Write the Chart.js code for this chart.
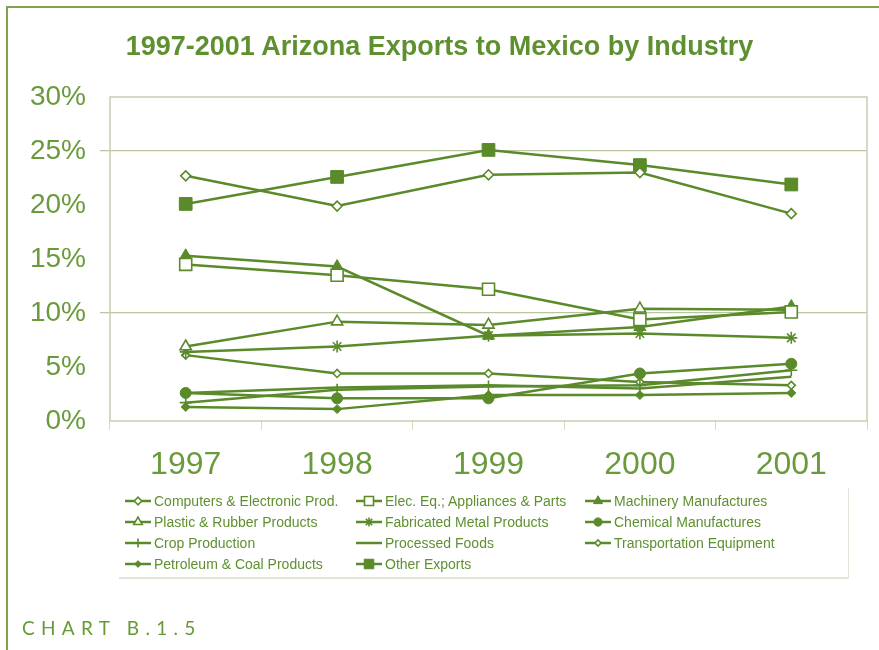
<!DOCTYPE html>
<html>
<head>
<meta charset="utf-8">
<script src="https://cdn.jsdelivr.net/npm/chart.js@4/dist/chart.umd.min.js"></script>
<style>
  html, body { margin: 0; padding: 0; background: #fff; }
  #page { position: relative; width: 879px; height: 650px; overflow: hidden; }
  #frame { position: absolute; left: 6px; top: 6px; right: -10px; bottom: -10px;
           border-left: 2px solid #7ca54c; border-top: 2px solid #7ca54c; }
  #chart { position: absolute; left: 0; top: 0; }
  #title { position: absolute; left: 0; width: 879px; top: 31px; text-align: center;
           font: bold 27px "Liberation Sans", Arial, sans-serif; color: #5e9030; }
  #legend { position: absolute; left: 119px; top: 488px; width: 729px; height: 89px;
            border-right: 1px solid #e2e4da; border-bottom: 2px solid #e2e4da; }
  .item { position: absolute; height: 18px; display: flex; align-items: center;
          font: 14px "Liberation Sans", Arial, sans-serif; color: #5e9030; white-space: nowrap; }
  .item canvas { margin-right: 2px; }
  #caption { position: absolute; left: 22px; top: 616px; letter-spacing: 6.3px;
             font: 19px Lato, "Open Sans", sans-serif; color: #679a36; }
</style>
</head>
<body>
<div id="page">
  <div id="frame"></div>
  <canvas id="chart" width="879" height="650"></canvas>
  <div id="title">1997-2001 Arizona Exports to Mexico by Industry</div>
  <div id="legend"></div>
  <div id="caption">CHART B.1.5</div>
</div>
<script>
// Share of Arizona exports to Mexico, percent
const years = ['1997', '1998', '1999', '2000', '2001'];

const computers      = [22.7, 19.9, 22.8, 23.0, 19.2];
const elecEquipment  = [14.5, 13.5, 12.2,  9.4, 10.1];
const machinery      = [15.3, 14.3,  7.9,  8.7, 10.6];
const plastics       = [ 6.9,  9.2,  8.9, 10.4, 10.3];
const fabricated     = [ 6.4,  6.9,  7.9,  8.1,  7.7];
const chemicals      = [ 2.6,  2.1,  2.1,  4.4,  5.3];
const crops          = [ 1.7,  2.9,  3.2,  3.3,  4.7];
const processedFoods = [ 2.6,  3.1,  3.3,  3.0,  4.1];
const transportation = [ 6.1,  4.4,  4.4,  3.6,  3.3];
const petroleum      = [ 1.3,  1.1,  2.4,  2.4,  2.6];
const otherExports   = [20.1, 22.6, 25.1, 23.7, 21.9];

const yTicks = [0, 5, 10, 15, 20, 25, 30];
const gridValues = [10, 25];

const GREEN = '#5a8a2a';
const TEXT = '#6a9a3c';

function series(label, data, pointStyle, radius, filled) {
    return {
        label: label,
        data: data,
        borderColor: GREEN,
        borderWidth: 2.5,
        pointStyle: pointStyle,
        pointRadius: radius,
        pointHoverRadius: radius,
        pointBorderWidth: filled ? 1 : 1.6,
        pointBorderColor: GREEN,
        pointBackgroundColor: filled ? GREEN : '#fff',
        tension: 0
    };
}

const datasets = [
    series('Computers & Electronic Prod.', computers, 'rectRot', 5, false),
    series('Elec. Eq.; Appliances & Parts', elecEquipment, 'rect', 8.5, false),
    series('Machinery Manufactures', machinery, 'triangle', 7, true),
    series('Plastic & Rubber Products', plastics, 'triangle', 6.5, false),
    series('Fabricated Metal Products', fabricated, 'star', 6, false),
    series('Chemical Manufactures', chemicals, 'circle', 5.5, true),
    series('Crop Production', crops, 'cross', 6, false),
    series('Processed Foods', processedFoods, false, 0, false),
    series('Transportation Equipment', transportation, 'rectRot', 4, false),
    series('Petroleum & Coal Products', petroleum, 'rectRot', 4.5, true),
    series('Other Exports', otherExports, 'rect', 9, true)
];

// light box around the plotting area
const plotBox = {
    id: 'plotBox',
    beforeDatasetsDraw(chart) {
        const a = chart.chartArea;
        const ctx = chart.ctx;
        ctx.save();
        ctx.strokeStyle = '#c6cfb0';
        ctx.lineWidth = 1.5;
        ctx.strokeRect(a.left, a.top, a.right - a.left, a.bottom - a.top);
        ctx.restore();
    }
};

const chart = new Chart(document.getElementById('chart'), {
    type: 'line',
    data: { labels: years, datasets: datasets },
    options: {
        responsive: false,
        animation: false,
        layout: { padding: { left: 0, right: 12, top: 97, bottom: 149 } },
        plugins: {
            legend: { display: false },
            title: { display: false },
            tooltip: { enabled: false }
        },
        scales: {
            x: {
                offset: true,
                afterFit(scale) { scale.height = 80; },
                border: { display: false },
                grid: {
                    offset: true,
                    drawOnChartArea: false,
                    drawTicks: true,
                    tickLength: 9,
                    color: '#d4dac4'
                },
                ticks: {
                    color: TEXT,
                    padding: 16,
                    font: { family: '"Liberation Sans", Arial', size: 32 }
                }
            },
            y: {
                min: 0,
                max: 30,
                afterFit(scale) { scale.width = 110; },
                afterBuildTicks(scale) { scale.ticks = yTicks.map(v => ({ value: v })); },
                border: { display: false },
                grid: {
                    tickLength: 10,
                    lineWidth: 1.3,
                    color: ctx => gridValues.includes(ctx.tick && ctx.tick.value) ? '#b9c7a0' : 'rgba(0,0,0,0)'
                },
                ticks: {
                    color: TEXT,
                    padding: 14,
                    font: { family: '"Liberation Sans", Arial', size: 28 },
                    callback: v => v + '%'
                }
            }
        }
    },
    plugins: [plotBox]
});

// legend in three columns, symbols drawn with the same point styles
const legendColumns = [124, 355, 584];
const legendRows = [492, 513, 534, 555];
const legendEl = document.getElementById('legend');
const legendBox = legendEl.getBoundingClientRect();

datasets.forEach((ds, i) => {
    const item = document.createElement('div');
    item.className = 'item';
    item.style.left = (legendColumns[i % 3] - legendBox.left) + 'px';
    item.style.top = (legendRows[Math.floor(i / 3)] - legendBox.top) + 'px';

    const sym = document.createElement('canvas');
    sym.width = 28;
    sym.height = 16;
    const c = sym.getContext('2d');
    c.strokeStyle = GREEN;
    c.lineWidth = 2.5;
    c.beginPath();
    c.moveTo(1, 8);
    c.lineTo(27, 8);
    c.stroke();
    if (ds.pointStyle) {
        c.fillStyle = ds.pointBackgroundColor;
        c.strokeStyle = GREEN;
        c.lineWidth = ds.pointBorderWidth;
        Chart.helpers.drawPoint(c, {
            pointStyle: ds.pointStyle,
            radius: ds.pointRadius * 0.75,
            rotation: 0,
            borderWidth: ds.pointBorderWidth
        }, 14, 8);
    }
    item.appendChild(sym);

    const txt = document.createElement('span');
    txt.textContent = ds.label;
    item.appendChild(txt);
    legendEl.appendChild(item);
});
</script>
</body>
</html>
